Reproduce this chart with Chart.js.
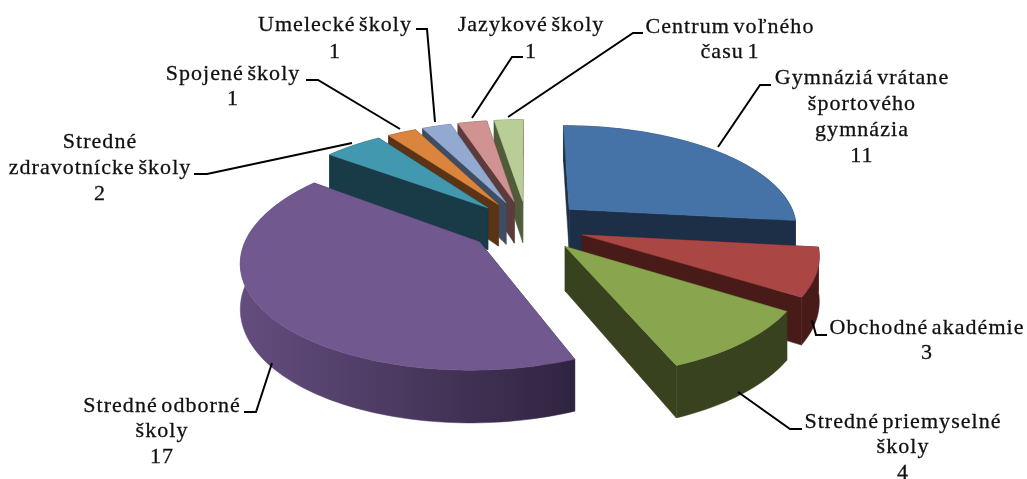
<!DOCTYPE html>
<html>
<head>
<meta charset="utf-8">
<style>
  html, body { margin: 0; padding: 0; background: #fff; }
  canvas { display: block; }
</style>
<script src="https://cdn.jsdelivr.net/npm/chart.js@4"></script>
</head>
<body>
<canvas id="pie" width="1027" height="479"></canvas>
<script>
const categories = ['Gymnáziá vrátane športového gymnázia', 'Obchodné akadémie', 'Stredné priemyselné školy', 'Stredné odborné školy', 'Stredné zdravotnícke školy', 'Spojené školy', 'Umelecké školy', 'Jazykové školy', 'Centrum voľného času'];
const values = [11, 3, 4, 17, 2, 1, 1, 1, 1];
const topColors = ['#4573a7', '#aa4644', '#89a54e', '#71588f', '#4198af', '#db843d', '#93a9cf', '#d19392', '#b9cd96'];
const sideColors = ['#1c2f47', '#481b18', '#38421f', '#2f2440', '#193b47', '#5b3415', '#3f4d63', '#5b3b3b', '#505b3a'];
const labelLines = [
    ['Gymnáziá vrátane', 'športového', 'gymnázia', '11'],
    ['Obchodné akadémie', '3'],
    ['Stredné priemyselné', 'školy', '4'],
    ['Stredné odborné', 'školy', '17'],
    ['Stredné', 'zdravotnícke školy', '2'],
    ['Spojené školy', '1'],
    ['Umelecké školy', '1'],
    ['Jazykové školy', '1'],
    ['Centrum voľného', 'času 1']
];

// label placement: centre x, y of first line, line step
const labelSpots = [[862, 78, 26], [927, 328, 25], [903, 422, 25.5], [162, 406, 25.5], [100, 142, 26], [233, 74, 25], [335, 25, 27], [531, 25, 27], [730, 27, 25]];
const leaders = [
    [[771, 85], [760, 85], [718, 147]],
    [[827, 335], [816, 335], [812, 320]],
    [[802, 429], [790, 429], [738, 392]],
    [[244, 412], [256, 412], [272, 363]],
    [[194, 174], [207, 174], [352, 143]],
    [[306, 80], [318, 80], [400, 129]],
    [[416, 29], [427, 29], [435, 122]],
    [[523, 57], [512, 57], [472, 118]],
    [[643, 33], [633, 33], [508, 117]]
];

// view of the tilted pie
const view = { cx: 527, cy: 226, tilt: 0.445, persp: 0.16, depth: 43 };

function project(x, y, r, z) {
    const w = 1 / (1 - view.persp * y / r);
    return [view.cx + x * w, view.cy + (y * view.tilt + z * view.depth) * w];
}

function fillPoly(ctx, pts, fill) {
    ctx.beginPath();
    pts.forEach((p, i) => i ? ctx.lineTo(p[0], p[1]) : ctx.moveTo(p[0], p[1]));
    ctx.closePath();
    ctx.fillStyle = fill;
    ctx.fill();
    ctx.strokeStyle = fill;
    ctx.lineWidth = 0.5;
    ctx.stroke();
}

function drawSlice(ctx, arc, i) {
    const { startAngle, endAngle, outerRadius: r } = arc.getProps(['startAngle', 'endAngle', 'outerRadius'], true);
    const mid = (startAngle + endAngle) / 2;
    const off = arc.options.offset / 4;
    const ox = Math.cos(mid) * off, oy = Math.sin(mid) * off;
    const rim = [];
    const steps = Math.max(4, Math.ceil((endAngle - startAngle) * 40));
    for (let s = 0; s <= steps; s++) {
        const a = startAngle + (endAngle - startAngle) * s / steps;
        rim.push([ox + Math.cos(a) * r, oy + Math.sin(a) * r]);
    }
    const at = (p, z) => project(p[0], p[1], r, z);
    const apex = [ox, oy];
    const side = sideColors[i];

    // cut faces, then the curved wall, then the top
    fillPoly(ctx, [at(apex, 0), at(rim[0], 0), at(rim[0], 1), at(apex, 1)], side);
    fillPoly(ctx, [at(apex, 0), at(rim[steps], 0), at(rim[steps], 1), at(apex, 1)], side);

    let wallFill = side;
    if (values[i] === Math.max(...values)) {
        const xs = rim.map(p => at(p, 0)[0]);
        wallFill = ctx.createLinearGradient(Math.min(...xs), 0, Math.max(...xs), 0);
        wallFill.addColorStop(0, '#644d7e');
        wallFill.addColorStop(1, side);
    }
    const wall = rim.map(p => at(p, 0)).concat(rim.slice().reverse().map(p => at(p, 1)));
    fillPoly(ctx, wall, wallFill);

    fillPoly(ctx, [at(apex, 0)].concat(rim.map(p => at(p, 0))), topColors[i]);
}

const pie3d = {
    id: 'pie3d',
    beforeDatasetDraw(chart, args) {
        const ctx = chart.ctx;
        const arcs = args.meta.data;
        const depthOf = a => Math.sin((a.startAngle + a.endAngle) / 2);
        const order = arcs.map((a, i) => i).sort((p, q) => depthOf(arcs[p]) - depthOf(arcs[q]));
        order.forEach(i => drawSlice(ctx, arcs[i], i));
        return false;
    },
    afterDatasetsDraw(chart) {
        const ctx = chart.ctx;
        ctx.save();
        ctx.strokeStyle = '#000';
        ctx.lineWidth = 2;
        ctx.lineJoin = 'miter';
        leaders.forEach(line => {
            ctx.beginPath();
            line.forEach((p, i) => i ? ctx.lineTo(p[0], p[1]) : ctx.moveTo(p[0], p[1]));
            ctx.stroke();
        });
        ctx.fillStyle = '#111';
        ctx.strokeStyle = '#111';
        ctx.lineWidth = 0.3;
        ctx.font = '22px "Liberation Serif"';
        ctx.letterSpacing = '1.05px';
        ctx.wordSpacing = '-3px';
        ctx.textAlign = 'center';
        ctx.textBaseline = 'middle';
        labelLines.forEach((lines, i) => {
            const [x, y, step] = labelSpots[i];
            lines.forEach((t, n) => {
                ctx.fillText(t, x, y + n * step);
                ctx.strokeText(t, x, y + n * step);
            });
        });
        ctx.restore();
    }
};

new Chart(document.getElementById('pie'), {
    type: 'pie',
    data: {
        labels: categories,
        datasets: [{
            data: values,
            backgroundColor: topColors,
            borderWidth: 0,
            offset: 232
        }]
    },
    options: {
        responsive: false,
        animation: false,
        radius: 229,
        plugins: {
            legend: { display: false },
            tooltip: { enabled: false }
        }
    },
    plugins: [pie3d]
});
</script>
</body>
</html>
